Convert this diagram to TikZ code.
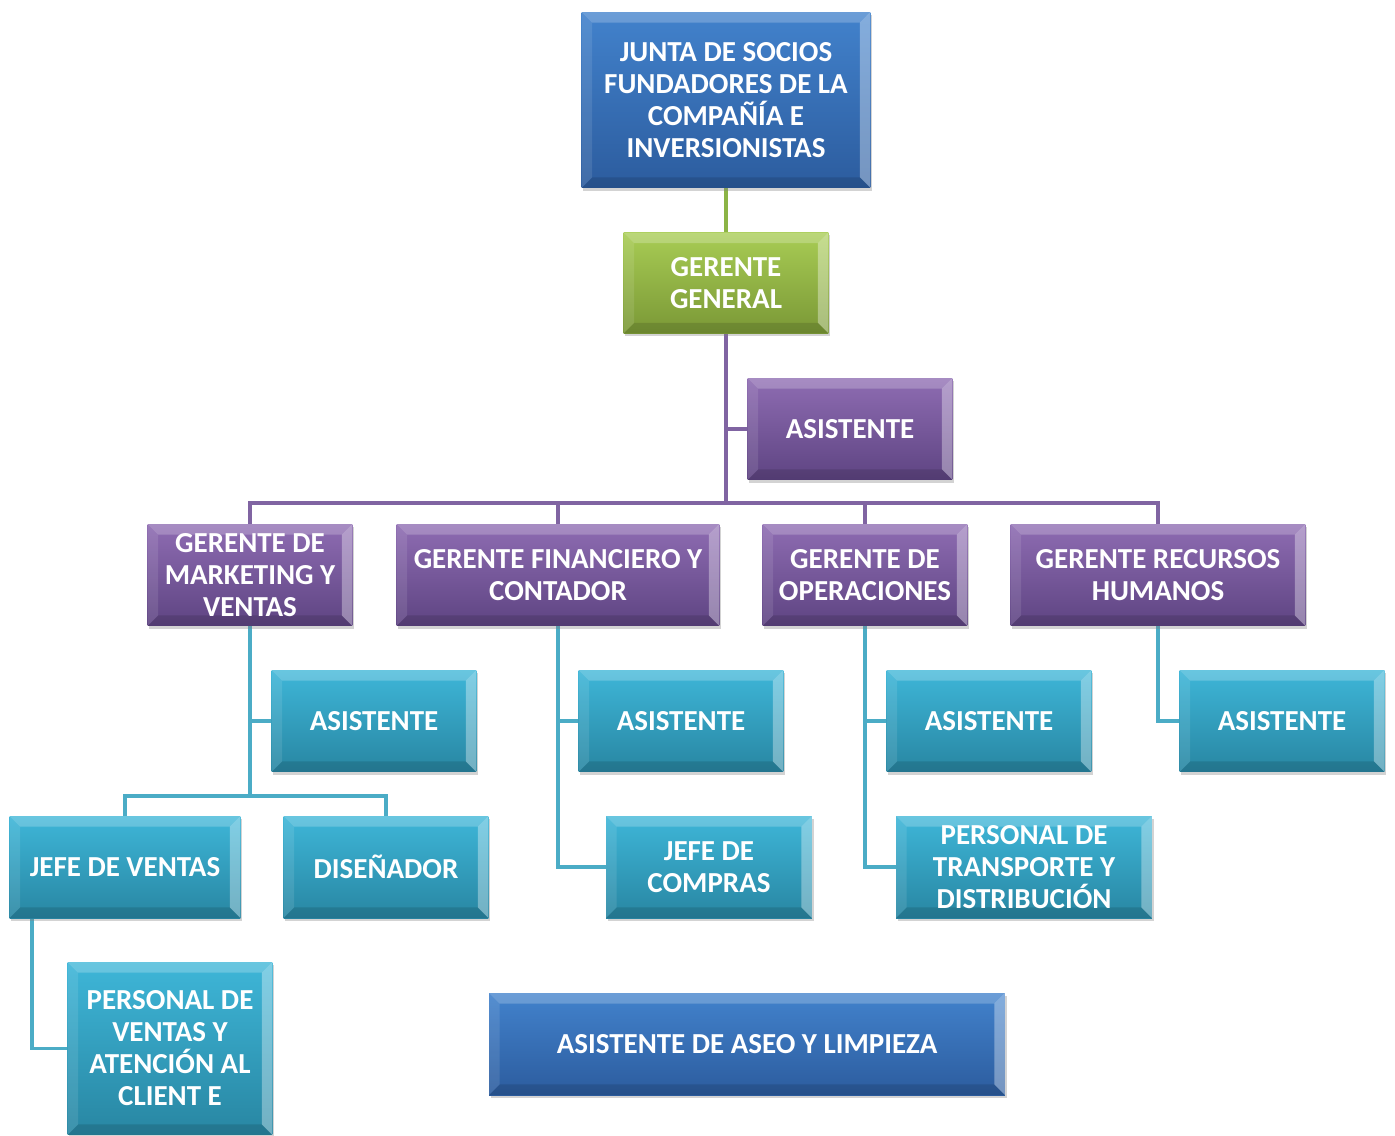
\documentclass[tikz,border=0pt]{standalone}
\usepackage{fontspec}
\setmainfont{Carlito}
\usepackage{xcolor}
\usepackage{tikz}
\usetikzlibrary{shadows,backgrounds}

\definecolor{azulA}{RGB}{66,130,204}
\definecolor{azulB}{RGB}{44,92,158}
\definecolor{verdeA}{RGB}{168,204,84}
\definecolor{verdeB}{RGB}{122,152,54}
\definecolor{moradoA}{RGB}{142,108,178}
\definecolor{moradoB}{RGB}{94,68,130}
\definecolor{tealA}{RGB}{62,182,216}
\definecolor{tealB}{RGB}{40,134,162}
\definecolor{lineaV}{RGB}{140,180,70}
\definecolor{lineaM}{RGB}{128,100,162}
\definecolor{lineaT}{RGB}{75,172,198}

\begin{document}
\begin{tikzpicture}[x=0.02cm, y=-0.02cm]

	\tikzstyle{caja}=[rectangle, inner sep=0pt, align=center, text=white,
		font=\fontsize{16.5}{18.2}\selectfont\bfseries,
		minimum width=4.1cm, minimum height=2.04cm,
		drop shadow={opacity=0.35, shadow xshift=1pt, shadow yshift=-1.5pt},
		path picture={
			\fill[white, opacity=0.22] (path picture bounding box.north west) -- (path picture bounding box.north east)
				-- ([xshift=-6pt,yshift=-6pt]path picture bounding box.north east) -- ([xshift=6pt,yshift=-6pt]path picture bounding box.north west) -- cycle;
			\fill[white, opacity=0.1] (path picture bounding box.north west) -- ([xshift=6pt,yshift=-6pt]path picture bounding box.north west)
				-- ([xshift=6pt,yshift=6pt]path picture bounding box.south west) -- (path picture bounding box.south west) -- cycle;
			\fill[white, opacity=0.35] (path picture bounding box.north east) -- ([xshift=-6pt,yshift=-6pt]path picture bounding box.north east)
				-- ([xshift=-6pt,yshift=6pt]path picture bounding box.south east) -- (path picture bounding box.south east) -- cycle;
			\fill[black, opacity=0.12] (path picture bounding box.south west) -- ([xshift=6pt,yshift=6pt]path picture bounding box.south west)
				-- ([xshift=-6pt,yshift=6pt]path picture bounding box.south east) -- (path picture bounding box.south east) -- cycle;
		}]
	\tikzstyle{azul}=[caja, top color=azulA, bottom color=azulB]
	\tikzstyle{verde}=[caja, top color=verdeA, bottom color=verdeB]
	\tikzstyle{morado}=[caja, top color=moradoA, bottom color=moradoB]
	\tikzstyle{teal}=[caja, top color=tealA, bottom color=tealB]
	\tikzstyle{linea}=[line width=2.2pt]

	\useasboundingbox (0,0) rectangle (1395,1135);

	% Direccion
	\node[azul, minimum width=5.78cm, minimum height=3.52cm] (junta) at (726,100)
		{JUNTA DE SOCIOS\\FUNDADORES DE LA\\COMPAÑÍA E\\INVERSIONISTAS};
	\node[verde, minimum height=2.02cm] (gg) at (726,283) {GERENTE\\GENERAL};
	\node[morado] (asis) at (850,429) {ASISTENTE};

	% Gerentes
	\node[morado] (mkt) at (250,575) {GERENTE DE\\MARKETING Y\\VENTAS};
	\node[morado, minimum width=6.46cm] (fin) at (558,575) {GERENTE FINANCIERO Y\\CONTADOR};
	\node[morado] (ope) at (865,575) {GERENTE DE\\OPERACIONES};
	\node[morado, minimum width=5.9cm] (rrhh) at (1158,575) {GERENTE RECURSOS\\HUMANOS};

	% Asistentes
	\node[teal] (asis1) at (374,721) {ASISTENTE};
	\node[teal] (asis2) at (681,721) {ASISTENTE};
	\node[teal] (asis3) at (989,721) {ASISTENTE};
	\node[teal] (asis4) at (1282,721) {ASISTENTE};

	% Personal
	\node[teal, minimum width=4.62cm] (jv) at (125,867) {JEFE DE VENTAS};
	\node[teal] (dis) at (386,867) {DISEÑADOR};
	\node[teal, minimum width=4.12cm] (jc) at (709,867) {JEFE DE\\COMPRAS};
	\node[teal, minimum width=5.12cm] (pt) at (1024,867) {PERSONAL DE\\TRANSPORTE Y\\DISTRIBUCIÓN};
	\node[teal, minimum height=3.46cm] (pv) at (170,1048.5) {PERSONAL DE\\VENTAS Y\\ATENCIÓN AL\\CLIENT E};
	\node[azul, minimum width=10.32cm] (aseo) at (747,1044) {ASISTENTE DE ASEO Y LIMPIEZA};

	\coordinate (bar) at (726,503);
	\coordinate (mktbar) at (250,796);

	\begin{scope}[on background layer]
	% Junta a gerente general
	\draw[linea, lineaV] (junta) -- (gg);

	% Gerente general a todos
	\draw[linea, lineaM] (gg) -- (bar);
	\draw[linea, lineaM] (asis.west) -- (asis.west -| gg.south);
	\draw[linea, lineaM] (mkt.north) |- (bar) -| (rrhh.north);
	\draw[linea, lineaM] (fin.north) -- (fin.north |- bar);
	\draw[linea, lineaM] (ope.north) -- (ope.north |- bar);

	% Marketing
	\draw[linea, lineaT] (mkt.south) -- (mktbar);
	\draw[linea, lineaT] (asis1.west) -- (asis1.west -| mkt.south);
	\draw[linea, lineaT] (jv.north) |- (mktbar) -| (dis.north);
	\draw[linea, lineaT] ([xshift=0.46cm]jv.south west) |- (pv.west);

	% Financiero
	\draw[linea, lineaT] (fin.south) |- (jc.west);
	\draw[linea, lineaT] (asis2.west) -- (asis2.west -| fin.south);

	% Operaciones
	\draw[linea, lineaT] (ope.south) |- (pt.west);
	\draw[linea, lineaT] (asis3.west) -- (asis3.west -| ope.south);

	% Recursos humanos
	\draw[linea, lineaT] (rrhh.south) |- (asis4.west);
	\end{scope}

\end{tikzpicture}
\end{document}
